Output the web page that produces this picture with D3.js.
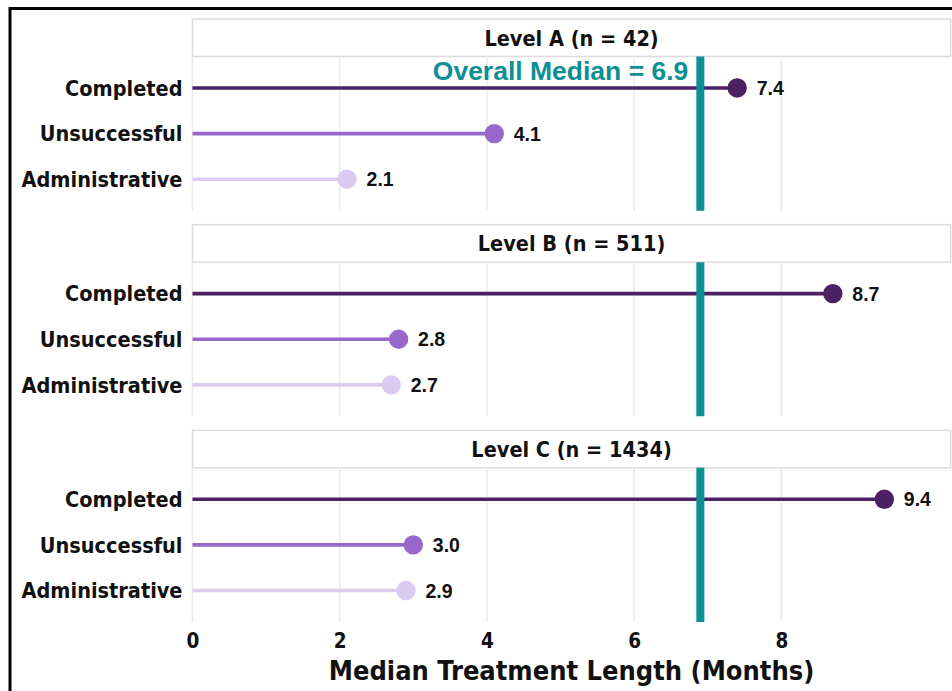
<!DOCTYPE html>
<html>
<head>
<meta charset="utf-8">
<script src="https://cdn.jsdelivr.net/npm/d3@7"></script>
<style>
  body { margin: 0; background: #fff; }
  .lab { font-family: "DejaVu Sans Condensed", "DejaVu Sans", sans-serif; font-weight: bold; font-stretch: condensed; fill: #111; }
  .num { font-family: "Liberation Sans", Arial, sans-serif; font-weight: bold; fill: #111; }
</style>
</head>
<body>
<svg id="chart"></svg>
<script>
// Median treatment length by discharge outcome, per level
const levels = ["Level A (n = 42)", "Level B (n = 511)", "Level C (n = 1434)"];
const outcomes = ["Completed", "Unsuccessful", "Administrative"];
const completed = [7.4, 8.7, 9.4];
const unsuccessful = [4.1, 2.8, 3.0];
const administrative = [2.1, 2.7, 2.9];
const overallMedian = 6.9;
const xTicks = [0, 2, 4, 6, 8];
const colors = ["#4b2163", "#9966cc", "#dccbf0"];

const width = 952, height = 691;
const stripH = 37.5;

const rows = [];
levels.forEach((lv, i) => {
  [completed, unsuccessful, administrative].forEach((arr, j) => {
    rows.push({ level: lv, outcome: outcomes[j], value: arr[i] });
  });
});

const svg = d3.select("#chart")
  .attr("width", width)
  .attr("height", height);

const x = d3.scaleLinear().domain([0, 10.3]).range([192.5, 950.6]);

const panel = d3.scaleBand().domain(levels).range([19, 622]).paddingInner(0.068);
const plotH = panel.bandwidth() - stripH;

const y = d3.scalePoint().domain(outcomes).range([0, plotH]).padding(0.69);
const color = d3.scaleOrdinal().domain(outcomes).range(colors);

// outer frame (cropped screenshot border)
svg.append("rect")
  .attr("x", 10).attr("y", 8.5)
  .attr("width", 1200).attr("height", 1200)
  .attr("fill", "none")
  .attr("stroke", "#000")
  .attr("stroke-width", 3);

const panels = svg.selectAll(".panel")
  .data(levels)
  .enter()
  .append("g")
  .attr("class", "panel")
  .attr("transform", d => `translate(0, ${panel(d)})`);

// strip
panels.append("rect")
  .attr("x", x.range()[0])
  .attr("y", 0)
  .attr("width", x.range()[1] - x.range()[0])
  .attr("height", stripH)
  .attr("fill", "#fff")
  .attr("stroke", "#dcdcdc")
  .attr("stroke-width", 1.5);

panels.append("text")
  .attr("class", "lab")
  .attr("x", (x.range()[0] + x.range()[1]) / 2)
  .attr("y", stripH / 2 + 7.8)
  .attr("text-anchor", "middle")
  .style("font-size", "21.5px")
  .text(d => d);

const plots = panels.append("g")
  .attr("transform", `translate(0, ${stripH})`);

// vertical grid
plots.selectAll(".grid")
  .data(xTicks)
  .enter()
  .append("line")
  .attr("x1", d => x(d)).attr("x2", d => x(d))
  .attr("y1", 0).attr("y2", plotH)
  .attr("stroke", "#ebebeb")
  .attr("stroke-width", 1.6);

// y labels
plots.selectAll(".ylab")
  .data(outcomes)
  .enter()
  .append("text")
  .attr("class", "lab")
  .attr("x", x(0) - 10)
  .attr("y", d => y(d))
  .attr("dy", "0.36em")
  .attr("text-anchor", "end")
  .style("font-size", "21.5px")
  .text(d => d);

// lollipop stems
plots.selectAll(".stem")
  .data(lv => rows.filter(r => r.level === lv))
  .enter()
  .append("line")
  .attr("x1", x(0))
  .attr("x2", d => x(d.value))
  .attr("y1", d => y(d.outcome))
  .attr("y2", d => y(d.outcome))
  .attr("stroke", d => color(d.outcome))
  .attr("stroke-width", 3.6);

// overall median line
plots.append("line")
  .attr("x1", x(overallMedian)).attr("x2", x(overallMedian))
  .attr("y1", 0).attr("y2", plotH)
  .attr("stroke", "#0d8f94")
  .attr("stroke-width", 8);

plots.selectAll(".dot")
  .data(lv => rows.filter(r => r.level === lv))
  .enter()
  .append("circle")
  .attr("cx", d => x(d.value))
  .attr("cy", d => y(d.outcome))
  .attr("r", 9.7)
  .attr("fill", d => color(d.outcome));

plots.selectAll(".val")
  .data(lv => rows.filter(r => r.level === lv))
  .enter()
  .append("text")
  .attr("class", "num")
  .attr("x", d => x(d.value) + 19.5)
  .attr("y", d => y(d.outcome))
  .attr("dy", "0.36em")
  .style("font-size", "19.5px")
  .text(d => d3.format(".1f")(d.value));

// overall median annotation (first panel only)
plots.filter((d, i) => i === 0)
  .append("text")
  .attr("class", "num")
  .attr("x", x(overallMedian) - 12)
  .attr("y", 80 - panel(levels[0]) - stripH)
  .attr("text-anchor", "end")
  .attr("fill", "#0d8f94")
  .style("fill", "#0d8f94")
  .style("font-size", "26.5px")
  .text(`Overall Median = ${overallMedian}`);

// x axis
const xAxis = d3.axisBottom(x).tickValues(xTicks).tickSize(0).tickPadding(0);
const gx = svg.append("g")
  .attr("transform", `translate(0, ${panel(levels[2]) + panel.bandwidth()})`)
  .call(xAxis);
gx.select(".domain").remove();
gx.selectAll("text")
  .attr("class", "lab")
  .attr("y", 26)
  .attr("dy", 0)
  .style("font-size", "20.5px")
  .attr("fill", null);

svg.append("text")
  .attr("class", "lab")
  .attr("x", (x.range()[0] + x.range()[1]) / 2)
  .attr("y", 680)
  .attr("text-anchor", "middle")
  .style("font-size", "27px")
  .text("Median Treatment Length (Months)");
</script>
</body>
</html>
